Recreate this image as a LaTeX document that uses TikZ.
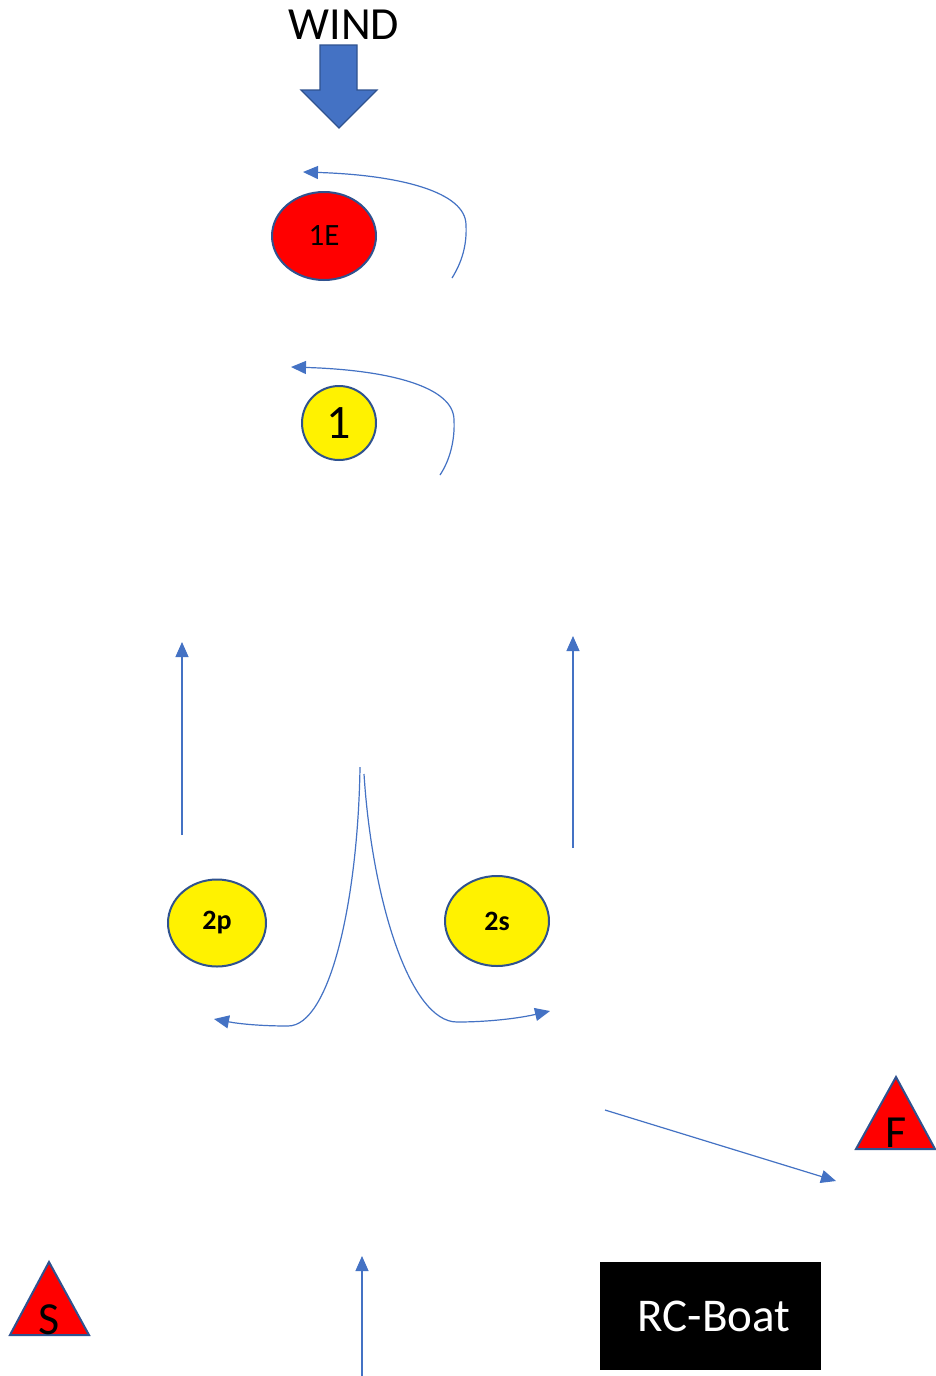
\documentclass[tikz,border=0pt]{standalone}
\usepackage{fontspec}
\setmainfont{Carlito}
\usetikzlibrary{arrows.meta,shapes.geometric}
\definecolor{accblue}{HTML}{4472C4}
\definecolor{edgeblue}{HTML}{2F528F}
\tikzset{
  flow/.style={draw=accblue,line width=1.2pt,-{Triangle[length=15pt,width=13pt]}},
  mark1/.style={ellipse,draw=edgeblue,line width=2pt,inner sep=0pt},
  tri/.style={draw=edgeblue,line width=2pt,fill=red,line join=miter},
}
\begin{document}
\begin{tikzpicture}[x=1pt,y=-1pt]
\useasboundingbox (0,0) rectangle (935,1376);
\fill[white] (0,0) rectangle (935,1376);
% wind
\node[font=\fontsize{46}{50}\selectfont,anchor=center] (wind) at (344,25) {WIND};
\draw[draw=edgeblue,fill=accblue,line width=1.2pt,line join=miter]
  (320,45) -- (357,45) -- (357,90) -- (377,90) -- (339,128) -- (301,90) -- (320,90) -- cycle;
% marks
\node[mark1,fill=red,minimum width=104pt,minimum height=88pt,font=\fontsize{31}{34}\selectfont] (m1e) at (324,236) {1E};
\node[mark1,fill=yellow,minimum width=74pt,minimum height=74pt,font=\fontsize{48}{52}\selectfont] (m1) at (339,423) {1};
\node[mark1,fill=yellow,minimum width=98pt,minimum height=87pt,font=\bfseries\fontsize{28}{32}\selectfont] (m2p) at (217,923) {2p};
\node[mark1,fill=yellow,minimum width=104pt,minimum height=90pt,font=\bfseries\fontsize{28}{32}\selectfont] (m2s) at (497,921) {2s};
% triangles
\draw[tri] (896,1077) -- (935,1149) -- (856,1149) -- cycle;
\node[font=\fontsize{46}{50}\selectfont,anchor=base] (fin) at (896,1147) {F};
\draw[tri] (49,1262) -- (89,1335) -- (10,1335) -- cycle;
\node[font=\fontsize{46}{50}\selectfont,anchor=base] (start) at (49,1334) {S};
% RC boat
\node[fill=black,draw=black,minimum width=220pt,minimum height=107pt,inner sep=0pt,text=white,font=\fontsize{47}{50}\selectfont] (rc) at (710,1316) {\hspace{8pt}RC-Boat};
% rounding arrows
\coordinate (a1s) at (452,278);
\coordinate (a1e) at (303,172);
\draw[flow] (a1s) .. controls (462,262) and (467,245) .. (466,225) .. controls (466,192) and (400,175) .. (a1e);
\coordinate (a2s) at (440,475);
\coordinate (a2e) at (291,367);
\draw[flow] (a2s) .. controls (450,460) and (455,440) .. (454,420) .. controls (454,387) and (390,370) .. (a2e);
% vertical legs
\coordinate (l1s) at (182,835); \coordinate (l1e) at (182,642);
\draw[flow] (l1s) -- (l1e);
\coordinate (r1s) at (573,848); \coordinate (r1e) at (573,636);
\draw[flow] (r1s) -- (r1e);
% gate split
\coordinate (gl) at (360,767); \coordinate (gle) at (214,1019);
\draw[flow] (gl) .. controls (358,900) and (330,1026) .. (288,1026) .. controls (262,1026) and (240,1024) .. (gle);
\coordinate (gr) at (364,774); \coordinate (gre) at (550,1011);
\draw[flow] (gr) .. controls (372,900) and (410,1022) .. (457,1022) .. controls (490,1022) and (520,1018) .. (gre);
% finish
\coordinate (fs) at (605,1110); \coordinate (fe) at (836,1181);
\draw[flow] (fs) -- (fe);
% start
\coordinate (ss) at (362,1376); \coordinate (se) at (362,1256);
\draw[flow] (ss) -- (se);
\end{tikzpicture}
\end{document}
